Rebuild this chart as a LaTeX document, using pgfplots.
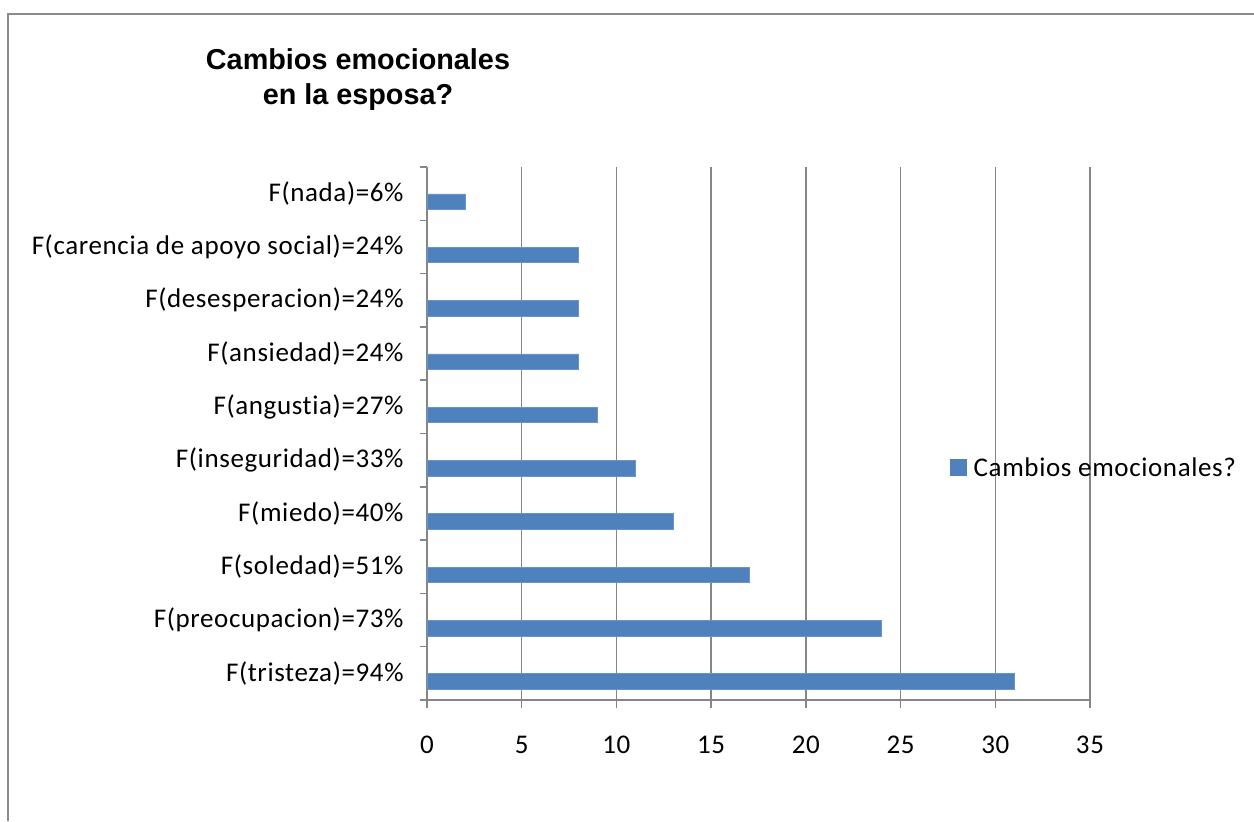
\documentclass[border=0pt]{standalone}
\usepackage{pgfplots}
\pgfplotsset{compat=1.18}
\usepackage{fontspec}
\setmainfont{Carlito}[LetterSpace=2.3, Ligatures={NoCommon}]
\newfontfamily\titlefont{Liberation Sans}
\definecolor{barblue}{HTML}{4F81BD}
\definecolor{gridgray}{HTML}{868686}
\definecolor{framegray}{HTML}{8C8C8C}

\begin{document}
\begin{tikzpicture}
% chart frame (left and top edges)
\draw[framegray, line width=1.4pt] (4pt,0pt) -- (4pt,403.5pt) -- (632pt,403.5pt);
% title
\node[font=\titlefont\fontsize{14.4}{17.5}\selectfont\bfseries, align=center]
  at (179pt,370.5pt) {Cambios emocionales\\en la esposa?};
\begin{axis}[
  at={(213.5pt,60.5pt)}, anchor=south west,
  scale only axis, width=331.5pt, height=266.5pt,
  xbar, bar width=7.75pt, bar shift=-4pt,
  xmin=0, xmax=35, xtick={0,5,...,35},
  ymin=-0.5, ymax=9.5,
  ytick={0,...,9},
  yticklabels={F(tristeza)=94\%, F(preocupacion)=73\%, F(soledad)=51\%,
    F(miedo)=40\%, F(inseguridad)=33\%, F(angustia)=27\%, F(ansiedad)=24\%,
    F(desesperacion)=24\%, F(carencia de apoyo social)=24\%, F(nada)=6\%},
  minor ytick={-0.5,0.5,...,9.5},
  axis x line*=bottom, axis y line*=left,
  axis line style={gridgray, line width=0.75pt},
  xmajorgrids, major grid style={gridgray, line width=0.75pt},
  tick align=outside, major tick length=4pt, minor tick length=3.5pt,
  every tick/.style={gridgray, line width=0.75pt},
  every major y tick/.append style={draw=none},
  font=\fontsize{13.5}{15.5}\selectfont,
  /pgf/number format/assume math mode=true,
  yticklabel style={inner sep=0pt, anchor=east, xshift=-7.5pt},
  xticklabel style={inner sep=0pt, anchor=north, yshift=-14pt},
  legend style={at={(0.789,0.437)}, anchor=west, draw=none, fill=none,
    inner sep=0pt, outer sep=0pt, font=\fontsize{13.5}{15.5}\selectfont,
    nodes={inner sep=0pt, text depth=0pt}},
  legend image code/.code={\fill[barblue] (0pt,-4pt) rectangle (8pt,4pt);},
  legend cell align=left,
]
\addplot[fill=barblue, draw=barblue!85!white, line width=0.3pt]
  coordinates {(31,0) (24,1) (17,2) (13,3) (11,4) (9,5) (8,6) (8,7) (8,8) (2,9)};
\addlegendentry{\hspace{3.5pt}Cambios emocionales?}
\end{axis}
\pgfresetboundingbox
\path (0pt,0pt) rectangle (627pt,410.5pt);
\end{tikzpicture}
\end{document}
